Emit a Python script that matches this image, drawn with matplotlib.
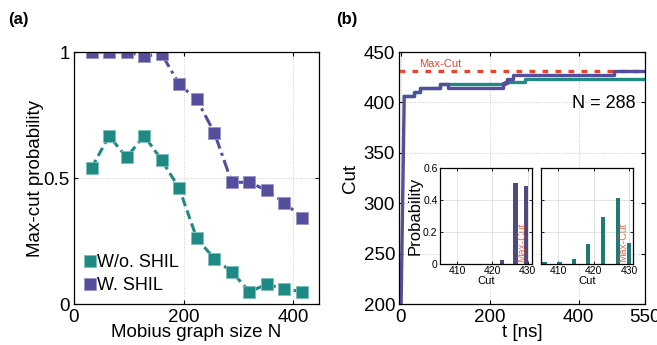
import numpy as np
import matplotlib as mpl
mpl.use('Agg')
import matplotlib.pyplot as plt

plt.rcParams['font.family'] = ['Liberation Sans', 'DejaVu Sans']
plt.rcParams['xtick.direction'] = 'in'
plt.rcParams['ytick.direction'] = 'in'

TEAL = '#1f8a84'
PURPLE = '#544e9c'
RED = '#e8452c'

# panel (a): max-cut probability vs Mobius ladder size
sizes = [32, 64, 96, 128, 160, 192, 224, 256, 288, 320, 352, 384, 416]
prob_wo = [0.54, 0.667, 0.582, 0.668, 0.571, 0.459, 0.261, 0.180, 0.128, 0.049, 0.078, 0.060, 0.049]
prob_w = [1.0, 1.0, 1.0, 0.984, 0.992, 0.872, 0.812, 0.680, 0.483, 0.483, 0.451, 0.402, 0.343]

# panel (b): cut evolution for N = 288
t_ramp = [1, 8]
cut_ramp = [200, 406]
t_purple = [8, 31, 44, 89, 107, 231, 239, 253, 480, 550]
cut_purple = [406, 410, 414, 418, 414, 419, 423, 427, 431, 431]
t_teal = [8, 31, 44, 89, 235, 280, 550]
cut_teal = [406, 410, 414, 418, 420, 423, 423]
max_cut = 431

# insets: cut histograms
hist_cut_w = [422.6, 426.5, 429.6]
hist_p_w = [0.025, 0.504, 0.486]
hist_cut_wo = [406.1, 410.3, 414.4, 418.5, 422.7, 426.9, 430.0]
hist_p_wo = [0.010, 0.010, 0.033, 0.123, 0.296, 0.414, 0.133]

fig = plt.figure(figsize=(6.57, 3.45), dpi=100)

def style(ax):
    ax.tick_params(top=True, right=True, length=3, width=0.8, labelsize=13.5)
    ax.tick_params(axis='x', pad=3.5)
    ax.tick_params(axis='y', pad=3)
    ax.grid(True, linestyle=':', color='#cccccc', linewidth=0.7)
    for s in ax.spines.values():
        s.set_linewidth(0.9)

######## (a)
axa = fig.add_axes([0.1126, 0.1188, 0.3729, 0.7304])
axa.plot(sizes, prob_wo, '--', color=TEAL, lw=2.2, marker='s', ms=8,
         mec='#7cc0bb', mew=0.6, label='W/o. SHIL', dashes=(3, 1.5))
axa.plot(sizes, prob_w, '-.', color=PURPLE, lw=2.2, marker='s', ms=8,
         mec='#9a95c8', mew=0.6, label='W. SHIL', dashes=(4, 1.5, 1, 1.5))
axa.set_xlim(0, 447)
axa.set_ylim(0, 1)
axa.set_xticks([0, 200, 400])
axa.set_yticks([0, 0.5, 1])
axa.set_yticklabels(['0', '0.5', '1'])
style(axa)
axa.set_xlabel('Mobius graph size N', fontsize=13.5, labelpad=-1)
axa.set_ylabel('Max-cut probability', fontsize=13.5, labelpad=0)
axa.legend(loc='lower left', frameon=False, fontsize=13, handlelength=0.6,
           handletextpad=0.1, borderaxespad=0.2, labelspacing=0.35,
           bbox_to_anchor=(0.0, -0.005))
for h in axa.get_legend().legend_handles:
    h.set_linestyle('None')
fig.text(0.012, 0.93, '(a)', fontsize=12, fontweight='bold')

######## (b)
axb = fig.add_axes([0.6078, 0.1188, 0.3744, 0.7304])
axb.axhline(max_cut, color=RED, lw=2.4, linestyle=(0, (1.7, 2.2)), zorder=1)
axb.text(42, max_cut + 2.5, 'Max-Cut', color=RED, fontsize=8, va='bottom')
axb.plot(t_ramp, cut_ramp, color=PURPLE, lw=2.4, solid_capstyle='butt')
axb.plot(t_teal, cut_teal, color=TEAL, lw=2.4, drawstyle='steps-post')
axb.plot(t_purple, cut_purple, color=PURPLE, lw=2.4, drawstyle='steps-post')
axb.set_xlim(-3, 550)
axb.set_ylim(200, 450)
axb.set_xticks([0, 200, 400, 550])
axb.set_yticks([200, 250, 300, 350, 400, 450])
style(axb)
axb.set_xlabel('t [ns]', fontsize=13.5, labelpad=-1)
axb.set_ylabel('Cut', fontsize=13.5, labelpad=3)
axb.text(0.96, 0.795, 'N = 288', transform=axb.transAxes, ha='right', va='center', fontsize=13)
fig.text(0.512, 0.93, '(b)', fontsize=12, fontweight='bold')

def inset(rect, cuts, probs, color, ylabels):
    ax = fig.add_axes(rect)
    ax.bar(cuts, probs, width=1.2, color=color, zorder=2)
    ax.set_xlim(405, 431.3)
    ax.set_ylim(0, 0.6)
    ax.set_xticks([410, 420, 430])
    ax.set_yticks([0, 0.2, 0.4, 0.6])
    ax.tick_params(labelsize=7.5, length=2, width=0.6, pad=1.5, top=True, right=True)
    ax.grid(True, color='#dddddd', linewidth=0.6)
    if ylabels:
        ax.set_yticklabels(['0', '0.2', '0.4', '0.6'])
        ax.set_ylabel('Probability', fontsize=12, labelpad=0)
    else:
        ax.set_yticklabels([])
    ax.set_xlabel('Cut', fontsize=8, labelpad=0)
    ax.text(428.3, 0.015, 'Max-Cut', color=RED, fontsize=7.5, rotation=90,
            ha='center', va='bottom', alpha=0.8, zorder=3)
    for s in ax.spines.values():
        s.set_linewidth(0.9)
    return ax

inset([0.6692, 0.2348, 0.141, 0.2783], hist_cut_w, hist_p_w, '#4d4a7e', True)
inset([0.8230, 0.2348, 0.1412, 0.2783], hist_cut_wo, hist_p_wo, '#1f7a74', False)

plt.savefig('out.png', dpi=100)
